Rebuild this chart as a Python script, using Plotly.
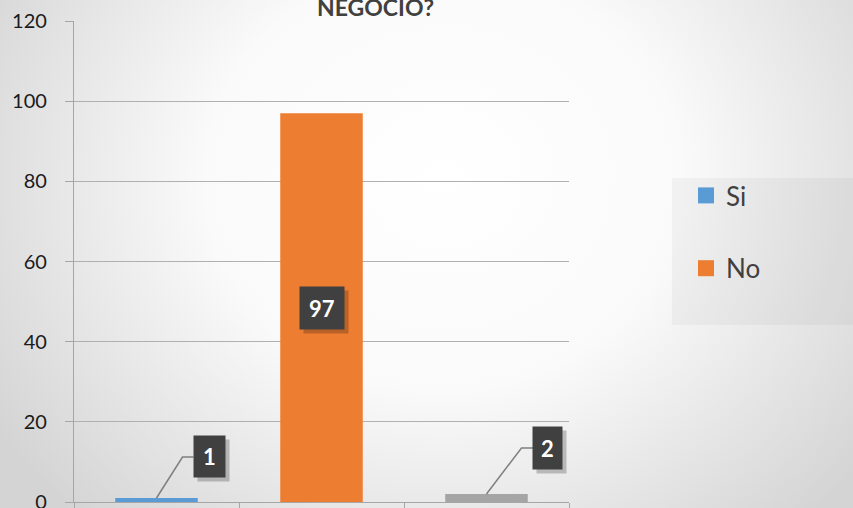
import base64
import plotly.graph_objects as go

categories = ["Si", "No", "NS/NR"]
values = [1, 97, 2]
colors = ["#5B9BD5", "#ED7D31", "#A5A5A5"]
legend_visible = [True, True, False]
title_text = "NEGOCIO?"
y_ticks = [0, 20, 40, 60, 80, 100, 120]

# label placement (pixel offsets from bar top / middle)
label_pos = [
    dict(mode="top", dx=53, dy=41, w=31, h=41, leader="M0,0 L26,41 L37,41"),
    dict(mode="mid", dx=0, dy=0, w=44, h=42, leader=None),
    dict(mode="top", dx=61, dy=46, w=29, h=42, leader="M0,0 L35,46 L47,46"),
]

W, H = 853, 508
L, R, T, B = 74, 284, 21, 6
pw, ph = W - L - R, H - T - B

svg = f'''<svg xmlns="http://www.w3.org/2000/svg" width="{W}" height="{H}" viewBox="0 0 {W} {H}">
<defs><radialGradient id="g" cx="0.52" cy="0.35" r="0.62" gradientTransform="translate(0.52 0.35) scale(1 1.5) translate(-0.52 -0.35)">
<stop offset="0" stop-color="#ffffff"/><stop offset="0.45" stop-color="#fafafa"/><stop offset="1" stop-color="#d4d4d4"/></radialGradient></defs>
<rect width="{W}" height="{H}" fill="url(#g)"/></svg>'''
bg_src = "data:image/svg+xml;base64," + base64.b64encode(svg.encode()).decode()

fig = go.Figure()
for c, v, col, lv in zip(categories, values, colors, legend_visible):
    fig.add_trace(go.Bar(
        x=[c], y=[v], name=c, marker=dict(color=col, line=dict(width=0)),
        width=0.5, showlegend=False, legendgroup=c,
    ))
    if lv:
        # legend entry with a larger square swatch
        fig.add_trace(go.Scatter(
            x=[None], y=[None], name=c, mode="markers", legendgroup=c,
            marker=dict(symbol="square", size=16, color=col), showlegend=True,
        ))

annotations = []
shapes = []
for c, v, p in zip(categories, values, label_pos):
    ya = v if p["mode"] == "top" else v / 2
    if p["leader"]:
        shapes.append(dict(
            type="path", xref="x", yref="y", xsizemode="pixel", ysizemode="pixel",
            xanchor=c, yanchor=v, path=p["leader"],
            line=dict(color="#7f7f7f", width=1.5),
        ))
    # shadow
    annotations.append(dict(
        x=c, y=ya, xref="x", yref="y", text="", showarrow=False,
        xshift=p["dx"] + 4, yshift=p["dy"] - 4, width=p["w"], height=p["h"],
        bgcolor="rgba(0,0,0,0.22)", borderpad=0,
    ))
    annotations.append(dict(
        x=c, y=ya, xref="x", yref="y", text=f"<b>{v}</b>", showarrow=False,
        xshift=p["dx"], yshift=p["dy"], width=p["w"], height=p["h"],
        bgcolor="#404040", borderpad=0,
        font=dict(family="Lato", size=22, color="white"),
    ))

annotations.append(dict(
    x=(375 - L) / pw, y=(H - B - 7) / ph, xref="paper", yref="paper",
    text=f"<b>{title_text}</b>", showarrow=False, yanchor="middle", xanchor="center",
    font=dict(family="Lato", size=23, color="#404040"),
))

# legend background panel
shapes.append(dict(
    type="rect", xref="paper", yref="paper",
    x0=(672 - L) / pw, x1=(W - L) / pw, y0=(H - B - 325) / ph, y1=(H - B - 178) / ph,
    fillcolor="rgba(0,0,0,0.035)", line=dict(width=0), layer="below",
))

fig.update_layout(
    width=W, height=H,
    margin=dict(l=L, r=R, t=T, b=B, autoexpand=False),
    paper_bgcolor="#ffffff", plot_bgcolor="rgba(0,0,0,0)",
    barmode="overlay",
    showlegend=True,
    legend=dict(
        x=(686 - L) / pw, y=(H - B - 172) / ph, xanchor="left", yanchor="top",
        bgcolor="rgba(0,0,0,0)", font=dict(family="Lato", size=26, color="#404040"),
        tracegroupgap=36, borderwidth=0,
    ),
    images=[dict(
        source=bg_src, xref="paper", yref="paper", x=-L / pw, y=(H - B) / ph,
        sizex=W / pw, sizey=H / ph, xanchor="left", yanchor="top",
        sizing="stretch", layer="below",
    )],
    annotations=annotations,
    shapes=shapes,
    xaxis=dict(
        type="category", tickson="boundaries", showticklabels=False,
        ticks="outside", ticklen=8, tickcolor="#a6a6a6", tickwidth=1.3,
        showline=True, linecolor="#a6a6a6", linewidth=1.3, showgrid=False,
        range=[-0.5, 2.5], fixedrange=True,
    ),
    yaxis=dict(
        range=[0, 120], tickvals=y_ticks, ticks="outside", ticklen=8,
        tickcolor="#a6a6a6", tickwidth=1.3, showline=True, linecolor="#a6a6a6",
        linewidth=1.3, gridcolor="#b0b0b0", gridwidth=1.3, zeroline=False,
        tickfont=dict(family="Lato", size=20, color="#1a1a1a"),
        ticklabelstandoff=14, ticklabeloverflow="allow",
    ),
)

fig.write_html(
    "out.html",
    config={"displayModeBar": False},
    post_script="document.body.style.margin='0px';document.body.style.overflow='hidden';",
)
